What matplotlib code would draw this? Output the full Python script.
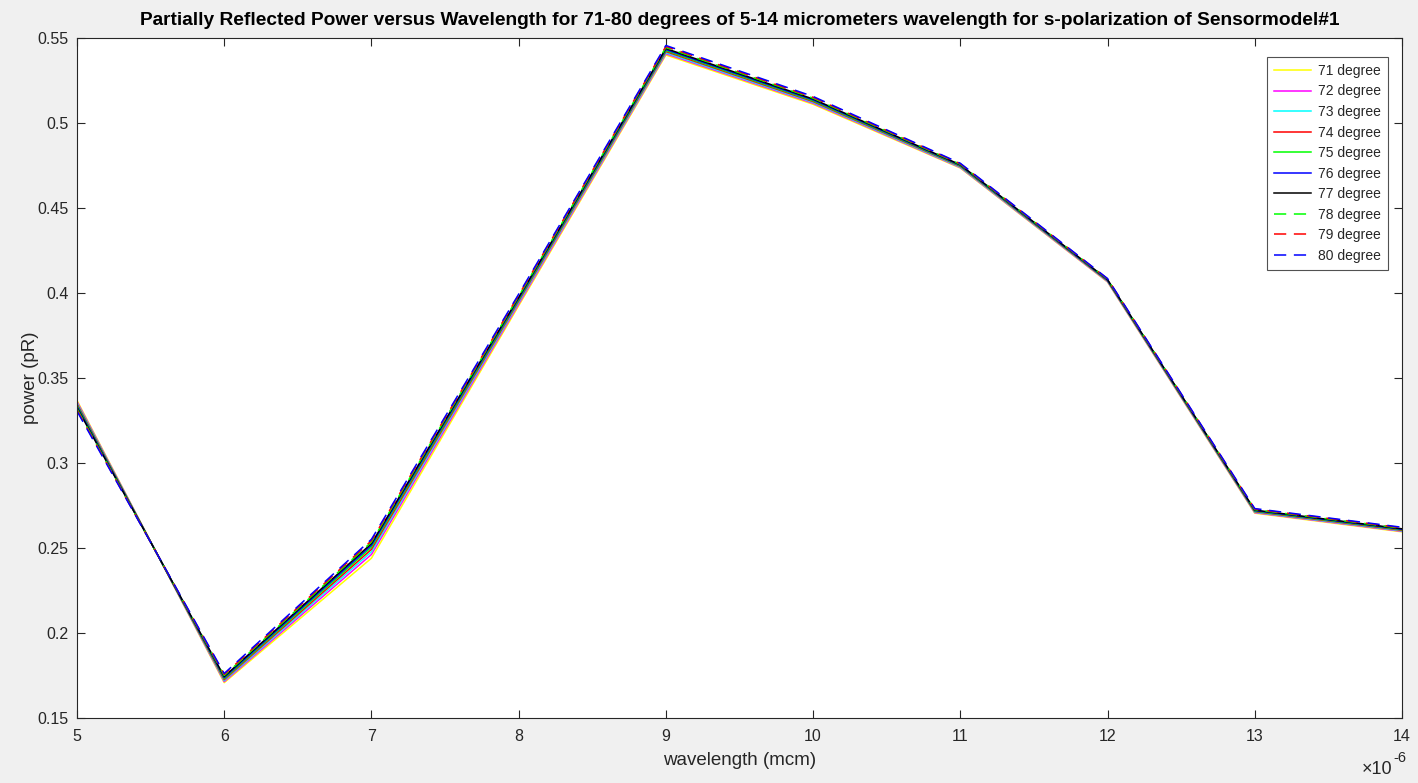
import matplotlib
matplotlib.use("Agg")
import matplotlib.pyplot as plt
from matplotlib.ticker import FixedLocator

plt.rcParams['font.family'] = ['Liberation Sans', 'DejaVu Sans']

# wavelength in metres
wavelength = [5e-6, 6e-6, 7e-6, 8e-6, 9e-6, 10e-6, 11e-6, 12e-6, 13e-6, 14e-6]

pR_71 = [0.3368, 0.1708, 0.2440, 0.3925, 0.5400, 0.5110, 0.4735, 0.4065, 0.2705, 0.2595]
pR_72 = [0.3361, 0.1714, 0.2462, 0.3935, 0.5407, 0.5116, 0.4738, 0.4067, 0.2708, 0.2598]
pR_73 = [0.3354, 0.1720, 0.2478, 0.3945, 0.5413, 0.5121, 0.4741, 0.4070, 0.2711, 0.2601]
pR_74 = [0.3347, 0.1726, 0.2492, 0.3953, 0.5420, 0.5126, 0.4745, 0.4072, 0.2714, 0.2604]
pR_75 = [0.3340, 0.1732, 0.2505, 0.3960, 0.5426, 0.5131, 0.4748, 0.4074, 0.2717, 0.2607]
pR_76 = [0.3333, 0.1738, 0.2516, 0.3967, 0.5432, 0.5136, 0.4751, 0.4076, 0.2720, 0.2610]
pR_77 = [0.3326, 0.1744, 0.2526, 0.3974, 0.5438, 0.5141, 0.4754, 0.4079, 0.2723, 0.2613]
pR_78 = [0.3319, 0.1750, 0.2535, 0.3980, 0.5444, 0.5146, 0.4757, 0.4081, 0.2726, 0.2616]
pR_79 = [0.3312, 0.1756, 0.2543, 0.3987, 0.5450, 0.5151, 0.4760, 0.4083, 0.2729, 0.2619]
pR_80 = [0.3305, 0.1762, 0.2551, 0.3993, 0.5456, 0.5156, 0.4763, 0.4085, 0.2732, 0.2622]

series = [pR_71, pR_72, pR_73, pR_74, pR_75, pR_76, pR_77, pR_78, pR_79, pR_80]
labels = ['71 degree', '72 degree', '73 degree', '74 degree', '75 degree',
          '76 degree', '77 degree', '78 degree', '79 degree', '80 degree']
colors = ['#ffff00', '#ff00ff', '#00ffff', '#ff0000', '#00ff00',
          '#0000ff', '#000000', '#00ff00', '#ff0000', '#0000ff']
styles = ['-'] * 7 + [(0, (8, 5))] * 3

x_ticks = [5, 6, 7, 8, 9, 10, 11, 12, 13, 14]
y_ticks = [0.15, 0.2, 0.25, 0.3, 0.35, 0.4, 0.45, 0.5, 0.55]
y_ticklabels = ['0.15', '0.2', '0.25', '0.3', '0.35', '0.4', '0.45', '0.5', '0.55']

fig = plt.figure(figsize=(14.18, 7.83), dpi=100, facecolor='#f0f0f0')
ax = fig.add_axes([0.0543, 0.083, 0.9344, 0.8685])
ax.set_facecolor('white')

for y, lab, c, ls in zip(series, labels, colors, styles):
    ax.plot(wavelength, y, color=c, linestyle=ls, linewidth=1.1, label=lab)

ax.set_xlim(5e-6, 14e-6)
ax.set_ylim(0.15, 0.55)
ax.xaxis.set_major_locator(FixedLocator([t * 1e-6 for t in x_ticks]))
ax.set_xticklabels([str(t) for t in x_ticks])
ax.set_yticks(y_ticks)
ax.set_yticklabels(y_ticklabels)

ax.tick_params(direction='in', top=True, right=True, length=6, width=0.8,
               labelsize=11.5, colors='#262626', labelcolor='#262626')
ax.tick_params(axis='x', pad=8)
ax.tick_params(axis='y', pad=6)
for sp in ax.spines.values():
    sp.set_color('#262626')
    sp.set_linewidth(0.8)

ax.set_xlabel('wavelength (mcm)', fontsize=13.5, color='#262626', labelpad=6)
ax.set_ylabel('power (pR)', fontsize=13.5, color='#262626', labelpad=-1)
ax.set_title('Partially Reflected Power versus Wavelength for 71-80 degrees of 5-14 micrometers wavelength for s-polarization of Sensormodel#1',
             fontsize=13.8, fontweight='bold', color='black', pad=9)

# axis exponent label: "×10" with a raised "-6"
fig.text(1392 / 1418, 1 - 774 / 783, '\u00d710', ha='right', va='baseline',
         fontsize=13, color='#262626')
fig.text(1393 / 1418, 1 - 762 / 783, '-6', ha='left', va='baseline',
         fontsize=10.5, color='#262626')

leg = ax.legend(loc='upper right', bbox_to_anchor=(0.9895, 0.972), fontsize=10,
                frameon=True, fancybox=False, handlelength=2.7, handletextpad=0.5,
                labelspacing=0.47, borderpad=0.5, borderaxespad=0.0)
leg.get_frame().set_edgecolor('#262626')
leg.get_frame().set_linewidth(0.8)
for t in leg.get_texts():
    t.set_color('#262626')

fig.savefig('out.png', dpi=100, facecolor=fig.get_facecolor())
